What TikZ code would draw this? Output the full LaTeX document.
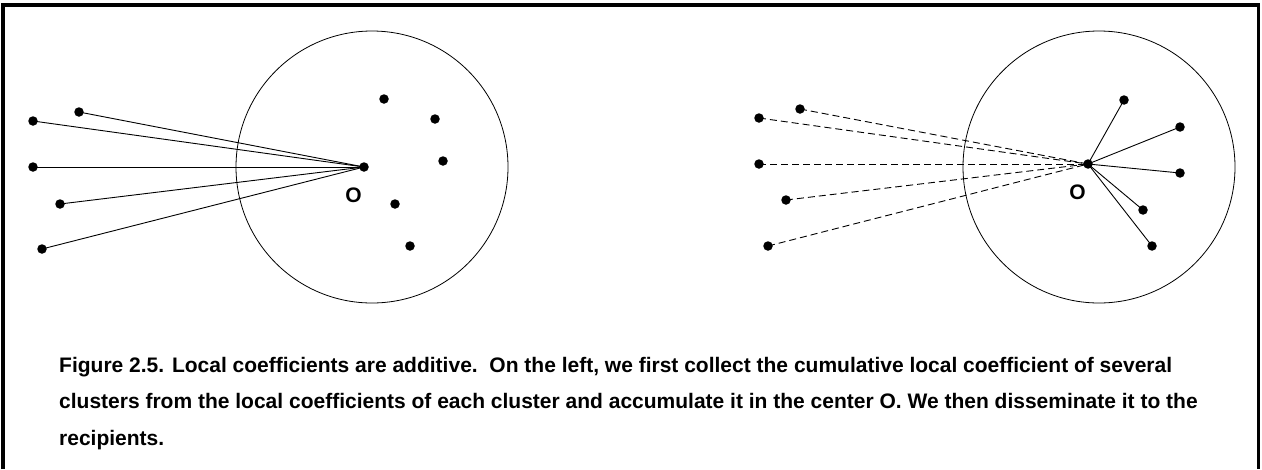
\documentclass[tikz,border=0pt]{standalone}
\usepackage{fontspec}
\setmainfont{Liberation Sans}
\usetikzlibrary{positioning}

\begin{document}
\begin{tikzpicture}[x=1pt, y=-1pt,
    dot/.style={circle, fill=black, inner sep=0pt, minimum size=9.5pt},
    link/.style={line width=0.9pt},
    share/.style={line width=0.9pt, dash pattern=on 7pt off 4pt},
    cluster/.style={line width=0.8pt},
    label/.style={font=\bfseries\fontsize{21}{21}\selectfont, inner sep=0pt},
    caption/.style={font=\bfseries\fontsize{21}{36.5}\selectfont, align=left, inner sep=0pt}]
    \useasboundingbox (0,0) rectangle (1262,469);

    % Frame
    \draw[line width=3.4pt] (2.8,469) -- (2.8,5) -- (1258.5,5) -- (1258.5,469);

    % Left: collect the coefficients in the center
    \draw[cluster] (372,167) circle[radius=136pt];
    \node[dot] (lO) at (364,167) {};
    \node[label] (lOlab) at (353.5,195.5) {O};
    \node[dot] (lA) at (79,112) {};
    \node[dot] (lB) at (33,121) {};
    \node[dot] (lC) at (33,167) {};
    \node[dot] (lD) at (60,204) {};
    \node[dot] (lE) at (42,249) {};
    \node[dot] (lR1) at (384,99) {};
    \node[dot] (lR2) at (435,119) {};
    \node[dot] (lR3) at (443,161) {};
    \node[dot] (lR4) at (395,204) {};
    \node[dot] (lR5) at (410,246) {};
    \foreach \p in {lA,lB,lC,lD,lE}
        \draw[link] (\p.center) -- (lO.center);

    % Right: disseminate to the recipients
    \draw[cluster] (1099,167) circle[radius=136pt];
    \node[dot] (rO) at (1088,164) {};
    \node[label] (rOlab) at (1077.5,192.5) {O};
    \node[dot] (rA) at (800,109) {};
    \node[dot] (rB) at (759,118) {};
    \node[dot] (rC) at (759,164) {};
    \node[dot] (rD) at (786,200) {};
    \node[dot] (rE) at (768,246) {};
    \node[dot] (rR1) at (1124,100) {};
    \node[dot] (rR2) at (1180,127) {};
    \node[dot] (rR3) at (1180,173) {};
    \node[dot] (rR4) at (1143,210) {};
    \node[dot] (rR5) at (1152,246) {};
    \foreach \p in {rA,rB,rC,rD,rE}
        \draw[share] (\p.center) -- (rO.center);
    \foreach \p in {rR1,rR2,rR3,rR4,rR5}
        \draw[link] (rO.center) -- (\p.center);

    % Caption
    \node[caption, anchor=base west] (cap) at (59,445) {Figure 2.5. Local coefficients are additive.\ \ On the left, we first collect the cumulative local coefficient of several\\
clusters from the local coefficients of each cluster and accumulate it in the center O. We then disseminate it to the\\
recipients.};
\end{tikzpicture}
\end{document}
